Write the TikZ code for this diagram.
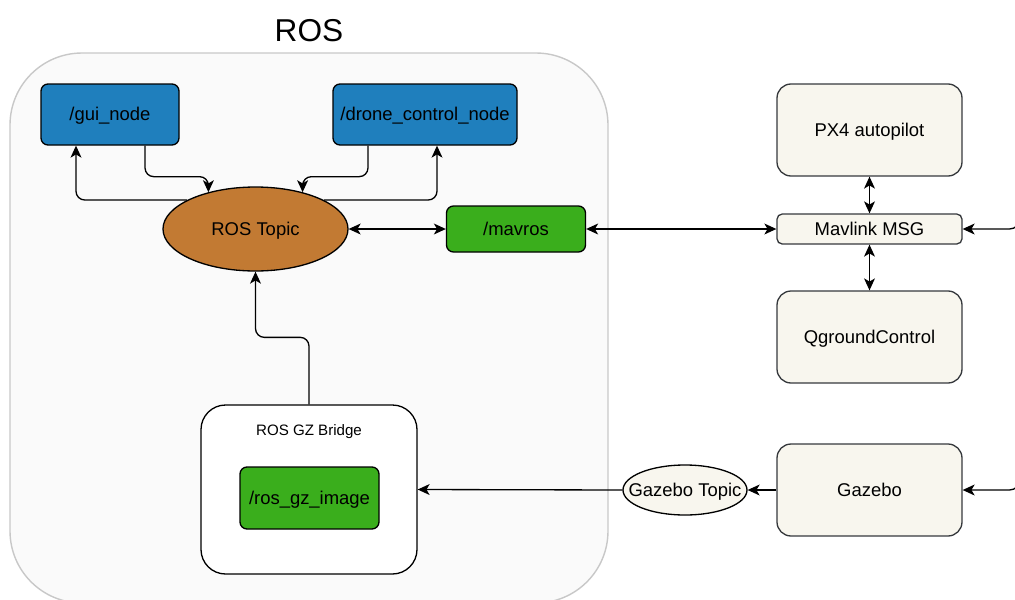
\documentclass[tikz,border=0pt]{standalone}
\usepackage{fontspec}
\setmainfont{Liberation Sans}
\usetikzlibrary{arrows.meta,shapes.geometric}

\definecolor{nodeblue}{HTML}{1F7FBD}
\definecolor{topicbrown}{HTML}{C27A33}
\definecolor{rosgreen}{HTML}{3AAE1C}
\definecolor{cream}{HTML}{F8F6EE}
\definecolor{rosbg}{HTML}{FAFAFA}
\definecolor{rosedge}{HTML}{C8C8C8}
\definecolor{darkedge}{HTML}{36393D}

\newcommand{\pxu}{0.02cm}

\begin{document}
\begin{tikzpicture}[x=0.02cm,y=-0.02cm,
  every node/.style={inner sep=0pt,text height=0.9em,text depth=0.21em,
    font=\fontsize{10.5}{12}\selectfont},
  rosbox/.style={draw=black,line width=0.75pt,rounded corners=4pt},
  extbox/.style={draw=darkedge,fill=cream,line width=0.75pt,rounded corners=8pt,
    minimum width=185*\pxu},
  topicshape/.style={ellipse,draw=black,line width=0.75pt},
  tip/.tip={Stealth[length=6.8pt,width=6.2pt,inset=1.8pt]},
  arr/.style={-tip,line width=0.75pt,rounded corners=5pt},
  biarr/.style={tip-tip,line width=0.75pt}]
\useasboundingbox (0,0) rectangle (1015,599);
\clip (0,0) rectangle (1015,599);

% ROS group
\node[draw=rosedge,fill=rosbg,line width=0.8pt,rounded corners=41pt,
  minimum width=598*\pxu,minimum height=550*\pxu] (rosgroup) at (309,328) {};
\node[font=\fontsize{18}{20}\selectfont,text height=13pt,text depth=0pt] (rostitle) at (309,30) {ROS};

\node[rosbox,fill=nodeblue,minimum width=138*\pxu,minimum height=61*\pxu] (gui) at (110,114.5) {/gui\_node};
\node[rosbox,fill=nodeblue,minimum width=184*\pxu,minimum height=61*\pxu] (drone) at (425,114.5) {/drone\_control\_node};
\node[topicshape,fill=topicbrown,minimum width=185*\pxu,minimum height=84*\pxu,
  label=center:ROS Topic] (topic) at (255.5,229) {};
\node[rosbox,fill=rosgreen,minimum width=139*\pxu,minimum height=46*\pxu] (mavros) at (516,229) {/mavros};

\node[draw=black,fill=white,line width=0.75pt,rounded corners=14pt,
  minimum width=216*\pxu,minimum height=169*\pxu] (bridge) at (309,489.5) {};
\node[font=\fontsize{8.6}{10}\selectfont] (bridgelbl) at (309,429) {ROS GZ Bridge};
\node[rosbox,fill=rosgreen,minimum width=139*\pxu,minimum height=62*\pxu] (gzimg) at (309.5,498) {/ros\_gz\_image};

% outside ROS
\node[extbox,minimum height=92*\pxu] (px4) at (869.5,130) {PX4 autopilot};
\node[extbox,rounded corners=3pt,minimum height=30*\pxu] (mavlink) at (869.5,229) {Mavlink MSG};
\node[extbox,minimum height=92*\pxu] (qgc) at (869.5,337) {QgroundControl};
\node[extbox,minimum height=92*\pxu] (gazebo) at (869.5,490) {Gazebo};
\node[topicshape,fill=cream,minimum width=124*\pxu,minimum height=50*\pxu,
  label=center:Gazebo Topic] (gztopic) at (685,490) {};

\coordinate (offa) at (1020,150);
\coordinate (offb) at (1020,420);

% connectors
\draw[arr] ([xshift=35*\pxu]gui.south) -- ++(0,31) -| (topic.142);
\draw[arr] (topic.157) -| ([xshift=-34*\pxu]gui.south);
\draw[arr] ([xshift=-57*\pxu]drone.south) -- ++(0,31) -| (topic.38);
\draw[arr] (topic.23) -| ([xshift=12*\pxu]drone.south);
\draw[biarr] (topic.east) -- (mavros.west);
\draw[biarr] (mavros.east) -- (mavlink.west);
\draw[biarr] (px4.south) -- (mavlink.north);
\draw[biarr] (mavlink.south) -- (qgc.north);
\draw[arr] (bridge.north) -- ++(0,-67) -| (topic.south);
\draw[arr] (gazebo.west) -- (gztopic.east);
\draw[arr] (gztopic.west) -- (bridge.east);
\draw[arr,rounded corners=6pt] (offa) |- (mavlink.east);
\draw[arr,rounded corners=6pt] (offb) |- (gazebo.east);
\end{tikzpicture}
\end{document}
